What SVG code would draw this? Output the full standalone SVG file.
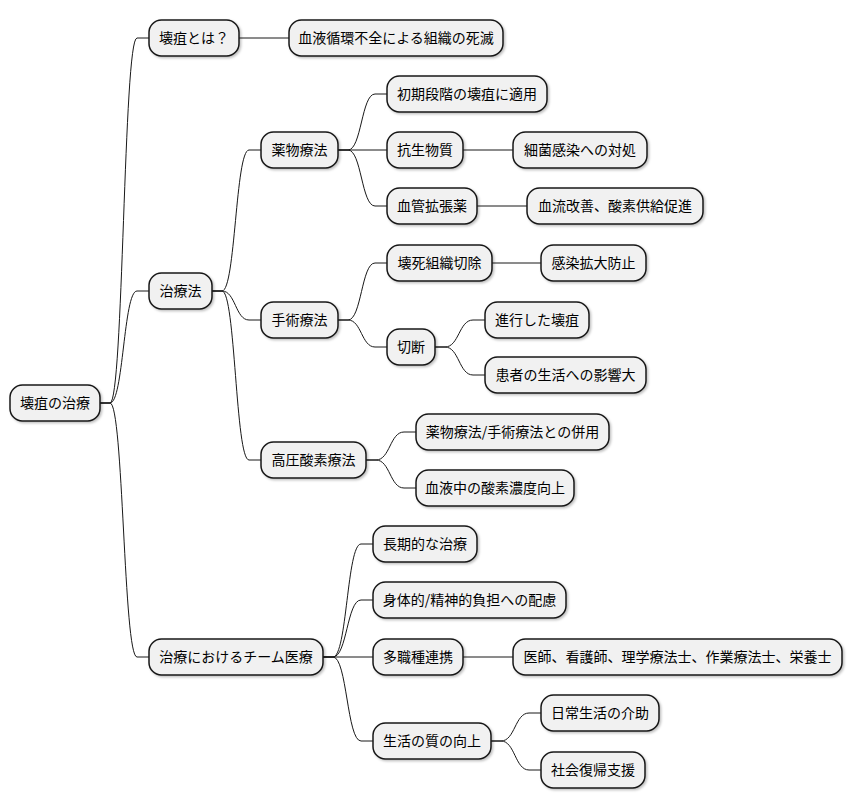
<svg xmlns="http://www.w3.org/2000/svg" width="852" height="809" viewBox="0 0 852 809">
<defs>
<filter id="sh" x="-10%" y="-20%" width="130%" height="160%">
<feDropShadow dx="1.5" dy="1.5" stdDeviation="1.2" flood-color="#000" flood-opacity="0.25"/>
</filter>
<style>
.n rect{fill:#F1F1F1;stroke:#181818;stroke-width:1.5;filter:url(#sh)}
.n text{font-family:"Noto Sans CJK JP","Noto Sans",sans-serif;font-size:14px;fill:#000;text-anchor:middle}
#edges path{fill:none;stroke:#181818;stroke-width:1}
</style>
</defs>
<rect width="852" height="809" fill="#fff"/>
<g id="edges">
<path d="M100,403 H110 C123.5,403 123.5,38 137,38 H149"/>
<path d="M100,403 H110 C123.5,403 123.5,291 137,291 H149"/>
<path d="M100,403 H110 C123.5,403 123.5,657 137,657 H149"/>
<path d="M239,38 H289"/>
<path d="M212,291 H222 C235.5,291 235.5,150 249,150 H261"/>
<path d="M212,291 H222 C235.5,291 235.5,320 249,320 H261"/>
<path d="M212,291 H222 C235.5,291 235.5,460 249,460 H261"/>
<path d="M338,150 H348 C361.5,150 361.5,94 375,94 H387"/>
<path d="M338,150 H387"/>
<path d="M338,150 H348 C361.5,150 361.5,206 375,206 H387"/>
<path d="M463,150 H513"/>
<path d="M477,206 H527"/>
<path d="M338,320 H348 C361.5,320 361.5,263 375,263 H387"/>
<path d="M338,320 H348 C361.5,320 361.5,347 375,347 H387"/>
<path d="M492,263 H541"/>
<path d="M435,347 H445 C459,347 459,320 473,320 H485"/>
<path d="M435,347 H445 C459,347 459,375 473,375 H485"/>
<path d="M366,460 H376 C390,460 390,432 404,432 H416"/>
<path d="M366,460 H376 C390,460 390,488 404,488 H416"/>
<path d="M323,657 H333 C347,657 347,544 361,544 H373"/>
<path d="M323,657 H333 C347,657 347,600 361,600 H373"/>
<path d="M323,657 H373"/>
<path d="M323,657 H333 C347,657 347,741 361,741 H373"/>
<path d="M463,657 H513"/>
<path d="M491,741 H501 C515,741 515,713 529,713 H541"/>
<path d="M491,741 H501 C515,741 515,770 529,770 H541"/>
</g>
<g id="root" class="n"><rect x="10" y="385" width="90" height="36" rx="12.5"/><text x="55" y="408">壊疽の治療</text></g>
<g id="n1" class="n"><rect x="149" y="20" width="90" height="36" rx="12.5"/><text x="194" y="43">壊疽とは？</text></g>
<g id="n1a" class="n"><rect x="289" y="20" width="214" height="36" rx="12.5"/><text x="396" y="43">血液循環不全による組織の死滅</text></g>
<g id="n2" class="n"><rect x="149" y="273" width="63" height="36" rx="12.5"/><text x="180.5" y="296">治療法</text></g>
<g id="n2a" class="n"><rect x="261" y="132" width="77" height="36" rx="12.5"/><text x="299.5" y="155">薬物療法</text></g>
<g id="n2a1" class="n"><rect x="387" y="76" width="160" height="36" rx="12.5"/><text x="467" y="99">初期段階の壊疽に適用</text></g>
<g id="n2a2" class="n"><rect x="387" y="132" width="76" height="36" rx="12.5"/><text x="425" y="155">抗生物質</text></g>
<g id="n2a2a" class="n"><rect x="513" y="132" width="134" height="36" rx="12.5"/><text x="580" y="155">細菌感染への対処</text></g>
<g id="n2a3" class="n"><rect x="387" y="188" width="90" height="36" rx="12.5"/><text x="432" y="211">血管拡張薬</text></g>
<g id="n2a3a" class="n"><rect x="527" y="188" width="176" height="36" rx="12.5"/><text x="615" y="211">血流改善、酸素供給促進</text></g>
<g id="n2b" class="n"><rect x="261" y="302" width="77" height="36" rx="12.5"/><text x="299.5" y="325">手術療法</text></g>
<g id="n2b1" class="n"><rect x="387" y="245" width="105" height="36" rx="12.5"/><text x="439.5" y="268">壊死組織切除</text></g>
<g id="n2b1a" class="n"><rect x="541" y="245" width="105" height="36" rx="12.5"/><text x="593.5" y="268">感染拡大防止</text></g>
<g id="n2b2" class="n"><rect x="387" y="329" width="48" height="36" rx="12.5"/><text x="411" y="352">切断</text></g>
<g id="n2b2a" class="n"><rect x="485" y="302" width="104" height="36" rx="12.5"/><text x="537" y="325">進行した壊疽</text></g>
<g id="n2b2b" class="n"><rect x="485" y="357" width="161" height="36" rx="12.5"/><text x="565.5" y="380">患者の生活への影響大</text></g>
<g id="n2c" class="n"><rect x="261" y="442" width="105" height="36" rx="12.5"/><text x="313.5" y="465">高圧酸素療法</text></g>
<g id="n2c1" class="n"><rect x="416" y="414" width="193" height="36" rx="12.5"/><text x="512.5" y="437">薬物療法/手術療法との併用</text></g>
<g id="n2c2" class="n"><rect x="416" y="470" width="158" height="36" rx="12.5"/><text x="495" y="493">血液中の酸素濃度向上</text></g>
<g id="n3" class="n"><rect x="149" y="639" width="174" height="36" rx="12.5"/><text x="236" y="662">治療におけるチーム医療</text></g>
<g id="n3a" class="n"><rect x="373" y="526" width="104" height="36" rx="12.5"/><text x="425" y="549">長期的な治療</text></g>
<g id="n3b" class="n"><rect x="373" y="582" width="193" height="36" rx="12.5"/><text x="469.5" y="605">身体的/精神的負担への配慮</text></g>
<g id="n3c" class="n"><rect x="373" y="639" width="90" height="36" rx="12.5"/><text x="418" y="662">多職種連携</text></g>
<g id="n3c1" class="n"><rect x="513" y="639" width="329" height="36" rx="12.5"/><text x="677.5" y="662">医師、看護師、理学療法士、作業療法士、栄養士</text></g>
<g id="n3d" class="n"><rect x="373" y="723" width="118" height="36" rx="12.5"/><text x="432" y="746">生活の質の向上</text></g>
<g id="n3d1" class="n"><rect x="541" y="695" width="118" height="36" rx="12.5"/><text x="600" y="718">日常生活の介助</text></g>
<g id="n3d2" class="n"><rect x="541" y="752" width="104" height="36" rx="12.5"/><text x="593" y="775">社会復帰支援</text></g>
</svg>
